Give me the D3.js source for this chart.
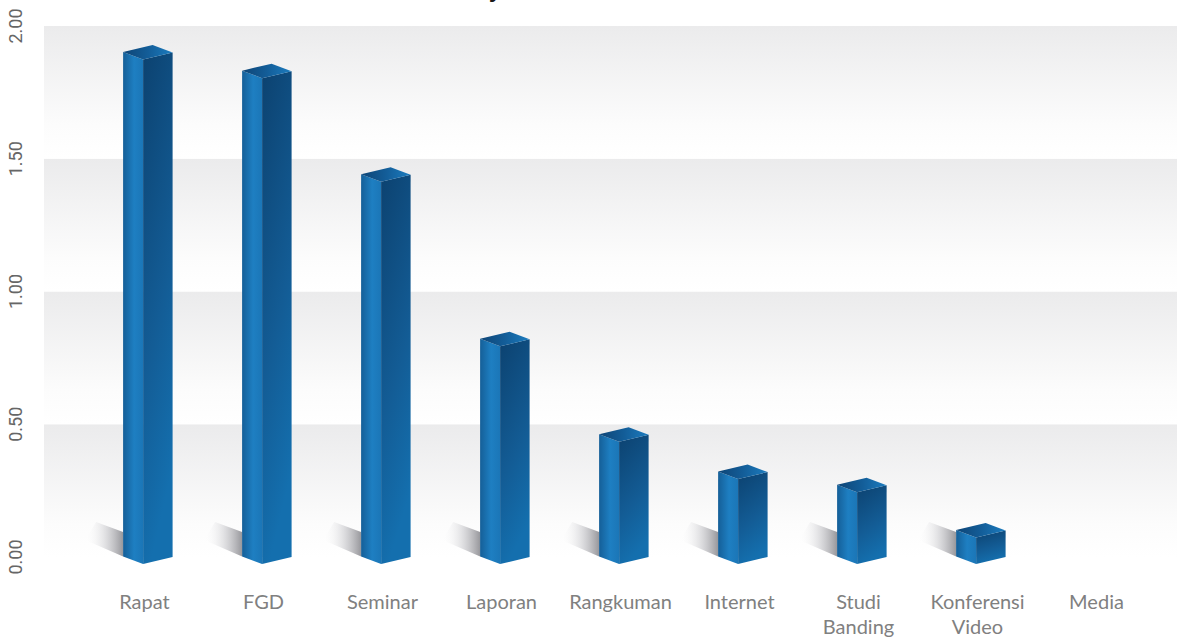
<!DOCTYPE html>
<html><head><meta charset="utf-8">
<script src="https://cdn.jsdelivr.net/npm/d3@7"></script>
<style>html,body{margin:0;padding:0;background:#fff;overflow:hidden}</style>
</head><body>
<svg id="chart" width="1177" height="637"></svg>
<script>
const categories = ["Rapat","FGD","Seminar","Laporan","Rangkuman","Internet","Studi Banding","Konferensi Video","Media"];
const labelLines = [["Rapat"],["FGD"],["Seminar"],["Laporan"],["Rangkuman"],["Internet"],["Studi","Banding"],["Konferensi","Video"],["Media"]];
const values = [1.90, 1.83, 1.44, 0.82, 0.46, 0.32, 0.27, 0.10, 0.00];
const yTicks = [0, 0.5, 1.0, 1.5, 2.0];
const titleText = "Frekuensi Media Diseminasi Kebijakan";

const W = 1177, H = 637;
const svg = d3.select("#chart");
const x = d3.scaleBand().domain(categories).range([85, 1156]).padding(0);
const y = d3.scaleLinear().domain([0, 2]).range([557, 26]);

const defs = svg.append("defs");
const bandG = defs.append("linearGradient").attr("id","bandG").attr("x1",0).attr("y1",0).attr("x2",0).attr("y2",1);
bandG.append("stop").attr("offset",0).attr("stop-color","#ebebec");
bandG.append("stop").attr("offset",0.75).attr("stop-color","#fcfcfc");
bandG.append("stop").attr("offset",1).attr("stop-color","#ffffff");

const leftG = defs.append("linearGradient").attr("id","leftG").attr("x1",0).attr("y1",0).attr("x2",1).attr("y2",0);
leftG.append("stop").attr("offset",0).attr("stop-color","#155f98");
leftG.append("stop").attr("offset",0.55).attr("stop-color","#1e7fc2");
leftG.append("stop").attr("offset",1).attr("stop-color","#1b76b7");

const rightG = defs.append("linearGradient").attr("id","rightG").attr("x1",0).attr("y1",0).attr("x2",0.25).attr("y2",1);
rightG.append("stop").attr("offset",0).attr("stop-color","#0c4270");
rightG.append("stop").attr("offset",0.6).attr("stop-color","#135c95");
rightG.append("stop").attr("offset",1).attr("stop-color","#146fae");

const topG = defs.append("linearGradient").attr("id","topG").attr("x1",0).attr("y1",0).attr("x2",1).attr("y2",0);
topG.append("stop").attr("offset",0).attr("stop-color","#0e4576");
topG.append("stop").attr("offset",0.5).attr("stop-color","#135d98");
topG.append("stop").attr("offset",1).attr("stop-color","#1c7cbf");

const shadowG = defs.append("linearGradient").attr("id","shadowG").attr("x1",1).attr("y1",0).attr("x2",0).attr("y2",0);
shadowG.append("stop").attr("offset",0).attr("stop-color","#8c8c91").attr("stop-opacity",0.9);
shadowG.append("stop").attr("offset",0.45).attr("stop-color","#c9c9cd").attr("stop-opacity",0.6);
shadowG.append("stop").attr("offset",1).attr("stop-color","#ffffff").attr("stop-opacity",0);

// background bands
svg.append("g").selectAll("rect").data(yTicks.filter(t => t > 0)).join("rect")
  .attr("x", 44).attr("width", W - 44)
  .attr("y", d => y(d)).attr("height", d => y(d - 0.5) - y(d))
  .attr("fill", "url(#bandG)");

// title (clipped at top like reference)
const title = svg.append("text").attr("x", 0).attr("y", -2)
  .attr("font-family", "Lato, 'Open Sans', sans-serif").attr("font-weight", "bold")
  .attr("font-size", 26).attr("fill", "#1a1a1a").text(titleText);
const jIdx = titleText.indexOf("j");
try {
  const p = title.node().getStartPositionOfChar(jIdx);
  title.attr("x", 491 - p.x);
} catch (e) { title.attr("x", 300); }

// y axis labels
svg.append("g").selectAll("text").data(yTicks).join("text")
  .attr("transform", d => `translate(22,${y(d)}) rotate(-90)`)
  .attr("text-anchor", "middle")
  .attr("font-family", "Roboto, 'Liberation Sans', sans-serif")
  .attr("font-size", 18).attr("fill", "#666")
  .text(d => d.toFixed(2));

// bars
const data = categories.map((c, i) => ({c, v: values[i]})).filter(d => d.v > 0);
const geom = d => {
  const cx = x(d.c) + x.bandwidth() / 2;
  const fx = cx - 1.4, lx = fx - 20, rx = fx + 29.5;
  const y0 = y(0), yt = y(d.v);
  return {fx, lx, rx, y0, yt};
};
const pts = a => a.map(p => p.join(",")).join(" ");

svg.append("g").selectAll("polygon").data(data).join("polygon")
  .attr("points", d => { const g = geom(d); return pts([[g.lx, g.y0 - 0.5], [g.lx, g.y0 - 25], [g.lx - 27, g.y0 - 35], [g.lx - 38, g.y0 - 17]]); })
  .attr("fill", "url(#shadowG)");

const bars = svg.append("g").selectAll("g").data(data).join("g");
bars.append("polygon")
  .attr("points", d => { const g = geom(d); return pts([[g.lx, g.yt - 0.5], [g.fx, g.yt + 7], [g.fx, g.y0 + 7], [g.lx, g.y0 - 0.5]]); })
  .attr("fill", "url(#leftG)");
bars.append("polygon")
  .attr("points", d => { const g = geom(d); return pts([[g.fx, g.yt + 7], [g.rx, g.yt], [g.rx, g.y0], [g.fx, g.y0 + 7]]); })
  .attr("fill", "url(#rightG)");
bars.append("polygon")
  .attr("points", d => { const g = geom(d); return pts([[g.lx, g.yt - 0.5], [g.fx, g.yt + 7], [g.rx, g.yt], [g.lx + g.rx - g.fx, g.yt - 7.5]]); })
  .attr("fill", "url(#topG)");

// x labels
const xl = svg.append("g").selectAll("text").data(categories).join("text")
  .attr("text-anchor", "middle")
  .attr("font-family", "Lato, 'Open Sans', sans-serif")
  .attr("font-size", 20).attr("fill", "#808080");
xl.each(function(c, i) {
  const t = d3.select(this);
  const cx = x(c) + x.bandwidth() / 2;
  labelLines[i].forEach((ln, k) => {
    t.append("tspan").attr("x", cx).attr("y", 609 + k * 24.5).text(ln);
  });
});
</script>
</body></html>
